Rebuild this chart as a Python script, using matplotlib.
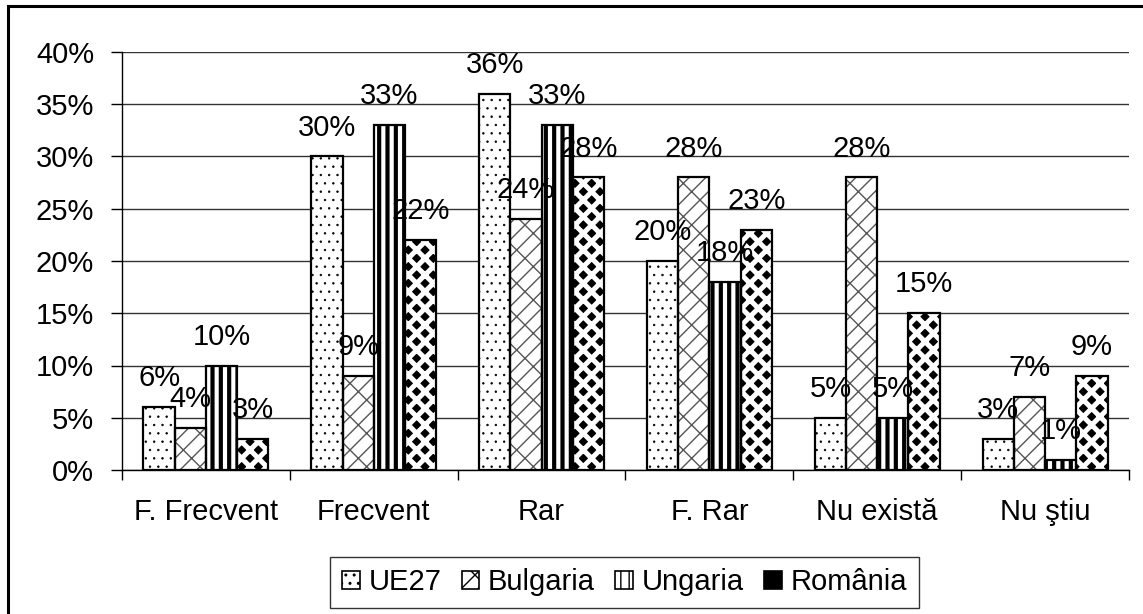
import matplotlib
matplotlib.use("Agg")
import matplotlib.pyplot as plt
import numpy as np
from matplotlib.patches import Rectangle, Patch
from matplotlib.ticker import FuncFormatter, FixedLocator

categories = ["F. Frecvent", "Frecvent", "Rar", "F. Rar", "Nu există", "Nu ştiu"]
series_names = ["UE27", "Bulgaria", "Ungaria", "România"]
ue27 = [6, 30, 36, 20, 5, 3]
bulgaria = [4, 9, 24, 28, 28, 7]
ungaria = [10, 33, 33, 18, 5, 1]
romania = [3, 22, 28, 23, 15, 9]
values = [ue27, bulgaria, ungaria, romania]

plt.rcParams['font.family'] = ['Liberation Sans', 'DejaVu Sans']
FS = 21

W, H = 1143, 614
fig = plt.figure(figsize=(W / 100, H / 100), dpi=100)
ax = fig.add_axes([122 / W, 1 - 470 / H, (1129 - 122) / W, (470 - 52) / H])

styles = [
    dict(face="white", hcol="black", hatch="..", hlw=0.5),
    dict(face="white", hcol="#555555", hatch="/x", hlw=1.0),
    dict(face="white", hcol="black", hatch="||", hlw=3.0),
    dict(face="black", hcol="white", hatch="xx", hlw=3.6),
]

x = np.arange(len(categories))
bw = 0.186
offsets = (np.arange(4) - 1.5) * bw

for i, (vals, st) in enumerate(zip(values, styles)):
    with plt.rc_context({'hatch.linewidth': st["hlw"]}):
        bars = ax.bar(x + offsets[i], vals, width=bw, color=st["face"],
                      edgecolor=st["hcol"], hatch=st["hatch"], linewidth=0, zorder=3)
        for b in bars:
            if hasattr(b, "set_hatch_linewidth"):
                b.set_hatch_linewidth(st["hlw"])
    ax.bar(x + offsets[i], vals, width=bw, facecolor="none",
           edgecolor="black", linewidth=1.6, zorder=4)
    for xi, v in zip(x + offsets[i], vals):
        ax.annotate(f"{v}%", (xi, v), xytext=(0, 15), textcoords="offset points",
                    ha="center", va="baseline", fontsize=FS, zorder=5)

ax.set_xlim(-0.5, len(categories) - 0.5)
ax.set_ylim(0, 40)
ax.set_yticks(np.arange(0, 41, 5))
ax.yaxis.set_major_formatter(FuncFormatter(lambda v, p: f"{int(v)}%"))
ax.yaxis.grid(True, color="#333333", linewidth=1.0, zorder=0)
ax.set_axisbelow(True)

ax.xaxis.set_major_locator(FixedLocator(np.arange(-0.5, len(categories), 1.0)))
ax.set_xticklabels([])
ax.xaxis.set_minor_locator(FixedLocator(x))
ax.set_xticklabels(categories, minor=True)
ax.tick_params(axis="x", which="minor", length=0, pad=20, labelsize=FS)
ax.tick_params(axis="x", which="major", length=7, width=1, direction="out")
ax.tick_params(axis="y", length=8, width=1, pad=12, labelsize=FS)

for s in ["top", "right"]:
    ax.spines[s].set_visible(False)
ax.spines["left"].set_linewidth(1.0)
ax.spines["bottom"].set_linewidth(1.0)

handles = []
for st in styles:
    handles.append(Patch(facecolor=st["face"], edgecolor="black", hatch=st["hatch"], linewidth=1.2))
leg = fig.legend(handles, series_names, loc="lower center", bbox_to_anchor=(624.5 / W, 6 / H),
                 ncol=4, fontsize=FS, frameon=True, fancybox=False, edgecolor="black",
                 handlelength=0.6, handleheight=0.6, handletextpad=0.3, columnspacing=0.7,
                 borderpad=0.4, borderaxespad=0)
leg.get_frame().set_linewidth(1.0)

fig.patches.append(Rectangle((8 / W, -0.05), 1.2, 1 - 6 / H + 0.05, transform=fig.transFigure,
                             fill=False, edgecolor="black", linewidth=2.2, clip_on=False))

fig.savefig("out.png", dpi=100)
